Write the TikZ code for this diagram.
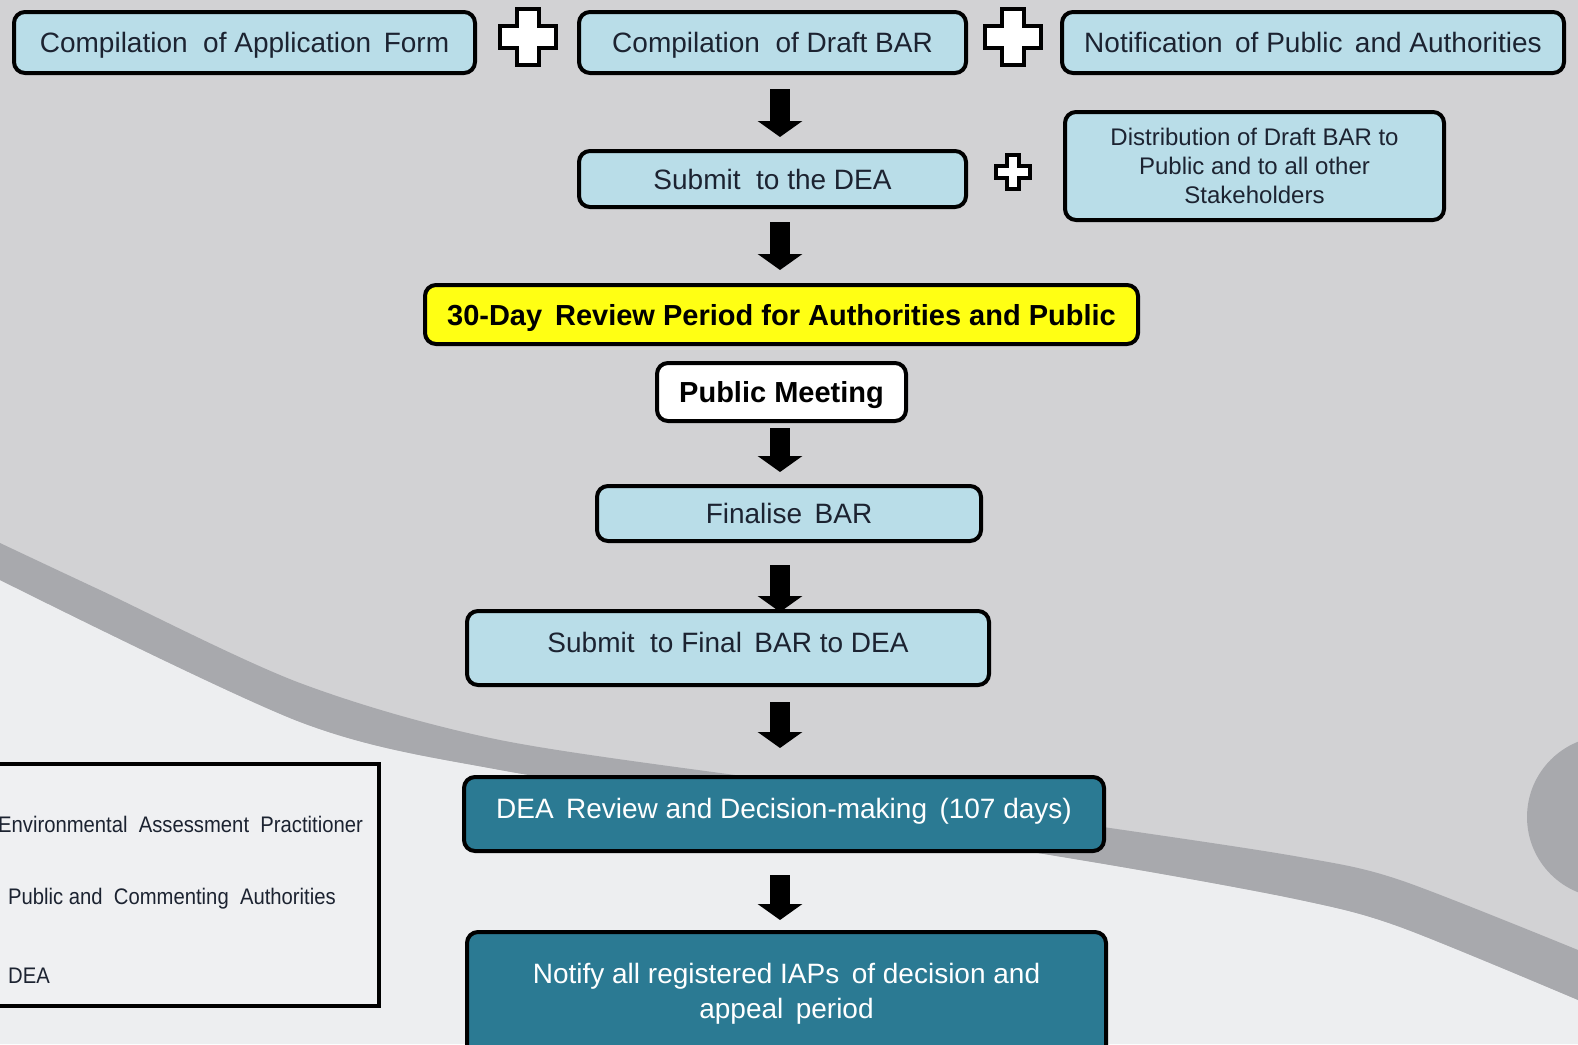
\documentclass[tikz,border=0pt]{standalone}
\usepackage{fontspec}
\setmainfont{Liberation Sans}
\newfontfamily\legfont[FakeStretch=0.9]{Liberation Sans}
\usetikzlibrary{arrows.meta,calc}
\definecolor{bgtop}{HTML}{D2D2D4}
\definecolor{bglow}{HTML}{EDEEF0}
\definecolor{bandgray}{HTML}{A8A9AD}
\definecolor{lblue}{HTML}{B9DDE8}
\definecolor{dteal}{HTML}{2B7A93}
\definecolor{ink}{HTML}{1C2331}
\definecolor{ylw}{HTML}{FFFF14}
\definecolor{legfill}{HTML}{EFF0F2}
\begin{document}
\begin{tikzpicture}[x=1pt,y=-1pt,
  box/.style={draw=black, line width=4pt, rounded corners=11pt, fill=lblue, text=ink,
    font=\fontsize{28}{32}\selectfont, inner sep=0pt, align=center},
  oneline/.style={text height=20pt, text depth=0pt},
  tealbox/.style={box, fill=dteal, text=white},
  yellowbox/.style={box, fill=ylw, text=black, font=\fontsize{29}{33}\selectfont\bfseries},
  whitebox/.style={box, fill=white, text=black, font=\fontsize{29}{33}\selectfont\bfseries},
  bigarrow/.style={draw=black, line width=20pt, -{Triangle[width=44pt,length=16pt]}},
  legtext/.style={anchor=west, inner sep=0pt, text=ink, font=\fontsize{22.5}{25}\legfont},
  plusmark/.pic={\draw[line width=4pt, fill=white, line join=miter]
    (-0.19,-0.5) -- (0.19,-0.5) -- (0.19,-0.19) -- (0.5,-0.19) -- (0.5,0.19) -- (0.19,0.19)
    -- (0.19,0.5) -- (-0.19,0.5) -- (-0.19,0.19) -- (-0.5,0.19) -- (-0.5,-0.19) -- (-0.19,-0.19) -- cycle;}
]
\useasboundingbox (0,0) rectangle (1578,1044);
% background
\fill[bgtop] (0,0) rectangle (1578,1044);
\fill[bglow] plot[smooth] coordinates {(0,580) (300,722) (500,770) (800,815) (1110,865) (1300,900) (1400,927) (1578,1000)}
  -- (1578,1044) -- (0,1044) -- cycle;
\fill[bandgray] plot[smooth] coordinates {(0,543) (100,590) (300,683) (500,740) (800,784) (1110,828) (1300,857) (1400,880) (1578,950)}
  -- plot[smooth] coordinates {(1578,1000) (1400,927) (1300,900) (1110,865) (800,815) (500,770) (300,722) (0,580)} -- cycle;
\fill[bandgray] (1608,817) circle[radius=81];

% boxes
\node[box, oneline, minimum width=461, minimum height=61] (appform) at (244.5,42.5) {Compilation \ of Application \,Form};
\node[box, oneline, minimum width=387, minimum height=61] (draftbar) at (772.5,42.5) {Compilation \ of Draft BAR};
\node[box, oneline, minimum width=502, minimum height=61] (notif) at (1313,42.5) {Notification \,of Public \,and Authorities};
\node[box, oneline, minimum width=387, minimum height=56] (submit) at (772.5,179) {Submit \ to the DEA};
\node[box, minimum width=379, minimum height=108, font=\fontsize{24}{29}\selectfont] (distrib) at (1254.5,166)
  {Distribution of Draft BAR to\\Public and to all other\\Stakeholders};
\node[yellowbox, oneline, text height=21pt, minimum width=713, minimum height=59] (review) at (781.5,314.5) {30-Day \,Review Period for Authorities and Public};
\node[whitebox, oneline, text height=21pt, minimum width=249, minimum height=58] (meeting) at (781.5,392) {Public Meeting};
\node[box, oneline, minimum width=384, minimum height=55] (finalise) at (789,513.5) {Finalise \,BAR};
\node[box, oneline, minimum width=522, minimum height=74] (submitfinal) at (728,648) {\raisebox{6pt}{Submit \ to Final \,BAR to DEA}};
\node[tealbox, oneline, minimum width=640, minimum height=74] (decision) at (784,814) {\raisebox{6pt}{DEA \,Review and Decision-making \,(107 days)}};
\node[tealbox, minimum width=639, minimum height=126] (notify) at (786.5,995)
  {\raisebox{11.5pt}{\begin{tabular}{@{}c@{}}Notify all registered IAPs \,of decision and\\[3pt] appeal \,period\end{tabular}}};

% plus signs
\pic (plusA) at (528,37) [scale=56] {plusmark};
\pic (plusB) at (1013,37) [scale=56] {plusmark};
\pic (plusC) at (1013,172) [scale=34] {plusmark};

% arrows
\coordinate (col) at (780,0);
\draw[bigarrow, shorten <=14pt, shorten >=12pt] (draftbar.south -| col) -- (submit.north -| col);
\draw[bigarrow, shorten <=13pt, shorten >=13pt] (submit.south -| col) -- (review.north -| col);
\draw[bigarrow, shorten <=5pt, shorten >=12pt] (meeting.south -| col) -- (finalise.north -| col);
\draw[bigarrow, shorten <=22pt, shorten >=-3pt] (finalise.south -| col) -- (submitfinal.north -| col);
\draw[bigarrow, shorten <=15pt, shorten >=27pt] (submitfinal.south -| col) -- (decision.north -| col);
\draw[bigarrow, shorten <=22pt, shorten >=10pt] (decision.south -| col) -- (notify.north -| col);

% legend
\node[draw=black, line width=4pt, fill=legfill, minimum width=382, minimum height=242, inner sep=0pt] (legend) at (188,885) {};
\node[legtext] (legEAP) at (-2,824) {Environmental \ Assessment \ Practitioner};
\node[legtext] (legPub) at (8,899) {Public and \ Commenting \ Authorities};
\node[legtext] (legDEA) at (8,976) {DEA};
\end{tikzpicture}
\end{document}
